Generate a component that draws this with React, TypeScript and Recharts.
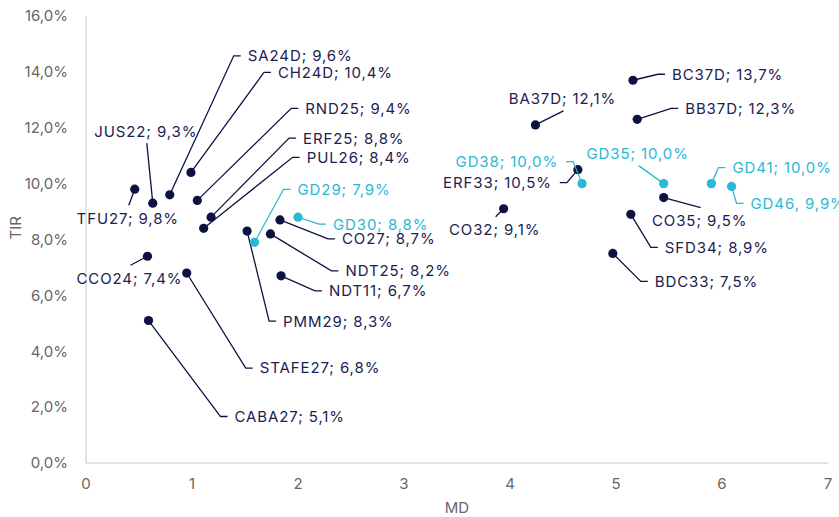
import React from "react";
import {
  ScatterChart,
  Scatter,
  XAxis,
  YAxis,
} from "recharts";

// bonos: nombre, duración modificada (MD) y TIR (%)
const bonds = [
  "SA24D", "CH24D", "RND25", "ERF25", "PUL26", "JUS22", "TFU27", "GD29",
  "GD30", "CO27", "NDT25", "PMM29", "NDT11", "CCO24", "STAFE27", "CABA27",
  "BC37D", "BB37D", "BA37D", "ERF33", "GD38", "GD35", "GD41", "GD46",
  "CO35", "SFD34", "CO32", "BDC33",
];
const md = [
  0.79, 0.99, 1.05, 1.18, 1.11, 0.63, 0.46, 1.59,
  2.0, 1.83, 1.74, 1.52, 1.84, 0.58, 0.95, 0.59,
  5.16, 5.2, 4.24, 4.64, 4.68, 5.45, 5.9, 6.09,
  5.45, 5.14, 3.94, 4.97,
];
const tir = [
  9.6, 10.4, 9.4, 8.8, 8.4, 9.3, 9.8, 7.9,
  8.8, 8.7, 8.2, 8.3, 6.7, 7.4, 6.8, 5.1,
  13.7, 12.3, 12.1, 10.5, 10.0, 10.0, 10.0, 9.9,
  9.5, 8.9, 9.1, 7.5,
];
const xTicks = [0, 1, 2, 3, 4, 5, 6, 7];
const yTicks = [0, 2, 4, 6, 8, 10, 12, 14, 16];

const NAVY = "#0e1242";
const NAVY_TEXT = "#1c2150";
const CYAN = "#2ab8d5";
const GRAY = "#666666";
const FONT = "Inter, 'Noto Sans', sans-serif";

type Pos = "right" | "left" | "above" | "below";
// where each data label sits relative to its dot (px)
const labelLayout: Record<string, { pos: Pos; dx: number; dy: number }> = {
  SA24D: { pos: "right", dx: 78, dy: -139 },
  CH24D: { pos: "right", dx: 87, dy: -100 },
  RND25: { pos: "right", dx: 108, dy: -92 },
  ERF25: { pos: "right", dx: 92, dy: -79 },
  PUL26: { pos: "right", dx: 103, dy: -71 },
  JUS22: { pos: "above", dx: -7, dy: -72 },
  TFU27: { pos: "below", dx: -7, dy: 29 },
  CCO24: { pos: "below", dx: -18, dy: 22 },
  STAFE27: { pos: "right", dx: 73, dy: 95 },
  CABA27: { pos: "right", dx: 86, dy: 96 },
  PMM29: { pos: "right", dx: 36, dy: 90 },
  NDT11: { pos: "right", dx: 48, dy: 15 },
  NDT25: { pos: "right", dx: 75, dy: 37 },
  CO27: { pos: "right", dx: 62, dy: 19 },
  GD30: { pos: "right", dx: 35, dy: 7 },
  GD29: { pos: "right", dx: 43, dy: -53 },
  BC37D: { pos: "right", dx: 39, dy: -6 },
  BB37D: { pos: "right", dx: 48, dy: -11 },
  BA37D: { pos: "above", dx: 27, dy: -26 },
  GD38: { pos: "left", dx: -24, dy: -22 },
  ERF33: { pos: "left", dx: -26, dy: 13 },
  CO32: { pos: "below", dx: -9, dy: 21 },
  GD35: { pos: "above", dx: -26, dy: -30 },
  GD41: { pos: "right", dx: 21, dy: -16 },
  GD46: { pos: "right", dx: 19, dy: 17 },
  CO35: { pos: "below", dx: 36, dy: 23 },
  SFD34: { pos: "right", dx: 34, dy: 33 },
  BDC33: { pos: "right", dx: 42, dy: 28 },
};

const pct = (v: number) => `${v.toFixed(1).replace(".", ",")}%`;

const points = bonds.map((name, i) => ({
  name,
  md: md[i],
  tir: tir[i],
  label: `${name}${name === "GD46" ? ", " : "; "}${pct(tir[i])}`,
}));
const soberanos = points.filter((p) => p.name.startsWith("GD"));
const otros = points.filter((p) => !p.name.startsWith("GD"));

const makeShape = (color: string, textColor: string) => (props: any) => {
  const { cx, cy, payload } = props;
  const lay = labelLayout[payload.name];
  const tx = cx + lay.dx;
  const ty = cy + lay.dy;
  let path = "";
  let anchor: "start" | "end" | "middle" = "start";
  if (lay.pos === "right") {
    path = `M${cx},${cy} L${tx - 14},${ty} L${tx - 7},${ty}`;
  } else if (lay.pos === "left") {
    anchor = "end";
    path = `M${cx},${cy} L${tx + 15},${ty} L${tx + 8},${ty}`;
  } else if (lay.pos === "above") {
    anchor = "middle";
    path = `M${cx},${cy} L${tx + 1},${ty + 12}`;
  } else {
    anchor = "middle";
    path = `M${cx},${cy} L${tx + 1},${ty - 13}`;
  }
  return (
    <g>
      <path d={path} fill="none" stroke={color} strokeWidth={1.3} />
      <circle cx={cx} cy={cy} r={4.6} fill={color} />
      <text
        x={tx}
        y={ty}
        dy="0.36em"
        textAnchor={anchor}
        fontSize={15}
        letterSpacing={0.9}
        fontFamily={FONT}
        fill={textColor}
      >
        {payload.label}
      </text>
    </g>
  );
};

export default function App() {
  return (
    <div style={{ position: "fixed", left: 0, top: 0, background: "#fff" }}>
      <ScatterChart
        width={839}
        height={517}
        margin={{ top: 16, right: 11, bottom: 0, left: 0 }}
      >
        <XAxis
          type="number"
          dataKey="md"
          domain={[0, 7]}
          ticks={xTicks}
          tickLine={false}
          axisLine={{ stroke: "#c8c8c8" }}
          tick={{ fontSize: 15, fill: GRAY, fontFamily: FONT }}
          tickMargin={9}
          height={54}
          label={{
            value: "MD",
            position: "insideBottom",
            offset: 4,
            fontSize: 15,
            fill: GRAY,
            fontFamily: FONT,
          }}
        />
        <YAxis
          type="number"
          dataKey="tir"
          domain={[0, 16]}
          ticks={yTicks}
          tickFormatter={pct}
          tickLine={false}
          axisLine={{ stroke: "#c8c8c8" }}
          tick={{ fontSize: 15, fill: GRAY, fontFamily: FONT }}
          tickMargin={12}
          width={86}
          label={{
            value: "TIR",
            angle: -90,
            position: "insideLeft",
            offset: 16,
            fontSize: 15,
            fill: GRAY,
            fontFamily: FONT,
          }}
        />
        <Scatter
          name="Otros"
          data={otros}
          isAnimationActive={false}
          shape={makeShape(NAVY, NAVY_TEXT)}
        />
        <Scatter
          name="Soberanos"
          data={soberanos}
          isAnimationActive={false}
          shape={makeShape(CYAN, CYAN)}
        />
      </ScatterChart>
    </div>
  );
}
